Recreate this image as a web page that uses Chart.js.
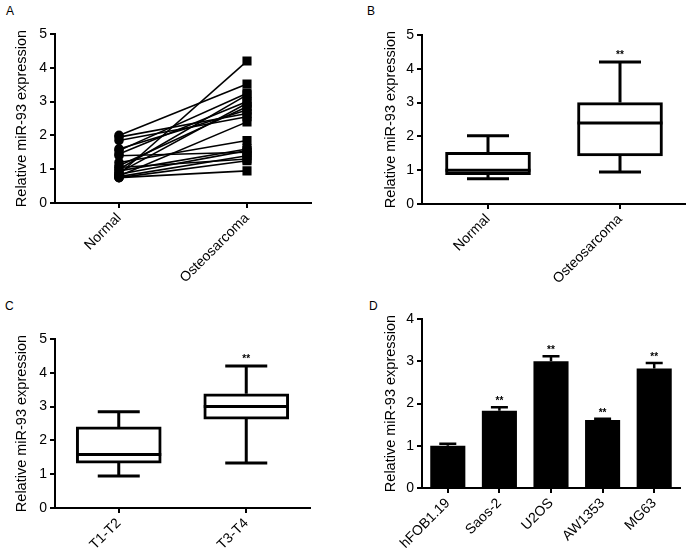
<!DOCTYPE html>
<html>
<head>
<meta charset="utf-8">
<script src="https://cdn.jsdelivr.net/npm/chart.js@4.4.1/dist/chart.umd.min.js"></script>
<style>
  body { margin: 0; background: #fff; width: 686px; height: 552px; position: relative; overflow: hidden; font-family: "Liberation Sans", Arial, sans-serif; }
  canvas { position: absolute; }
  .tag { position: absolute; font-size: 12px; color: #000; }
</style>
</head>
<body>
<div class="tag" style="left:6px;top:4px">A</div>
<div class="tag" style="left:367px;top:4px">B</div>
<div class="tag" style="left:5px;top:299px">C</div>
<div class="tag" style="left:369px;top:299px">D</div>
<canvas id="chartC" style="left:0;top:276px" width="343" height="276"></canvas>
<canvas id="chartD" style="left:343px;top:276px" width="343" height="276"></canvas>
<canvas id="chartA" style="left:0;top:0" width="343" height="300"></canvas>
<canvas id="chartB" style="left:343px;top:0" width="343" height="300"></canvas>
<script>
// panel A: paired samples (same index = same patient)
const pairLabels = ["Normal", "Osteosarcoma"];
const pairNormal = [0.85, 2.0, 1.55, 1.0, 1.85, 1.45, 0.9, 1.6, 1.1, 1.95, 0.8, 1.2, 0.95, 1.4, 0.78, 1.05, 0.75, 0.75, 0.85];
const pairOsteo  = [4.2, 3.52, 3.25, 3.2, 2.55, 3.0, 2.95, 2.75, 2.85, 2.65, 2.4, 1.85, 1.6, 1.5, 1.4, 1.3, 1.25, 0.95, 1.55];

// panel B / C: box stats [min, q1, median, q3, max]
const boxLabelsB = ["Normal", "Osteosarcoma"];
const boxB = [[0.75, 0.87, 1.0, 1.53, 2.02], [0.95, 1.42, 2.4, 3.0, 4.2]];
const starsB = ["", "**"];
const boxLabelsC = ["T1-T2", "T3-T4"];
const boxC = [[0.95, 1.33, 1.58, 2.4, 2.85], [1.33, 2.63, 3.0, 3.38, 4.2]];
const starsC = ["", "**"];

// panel D: cell lines
const cellLines = ["hFOB1.19", "Saos-2", "U2OS", "AW1353", "MG63"];
const cellMeans = [1.0, 1.83, 3.0, 1.61, 2.83];
const cellErr = [0.05, 0.08, 0.12, 0.03, 0.13];
const cellStars = ["", "**", "**", "**", "**"];

Chart.defaults.font.family = '"Liberation Sans", Arial, sans-serif';
Chart.defaults.font.size = 14;
Chart.defaults.color = "#000";
Chart.defaults.animation = false;
Chart.defaults.plugins.legend.display = false;
Chart.defaults.plugins.tooltip.enabled = false;

function axes(yMax, yWidth, xHeight) {
  return {
    x: {
      offset: true,
      grid: { offset: false, drawOnChartArea: false, tickLength: 5, color: "#000", lineWidth: 2 },
      border: { color: "#000", width: 2 },
      ticks: { maxRotation: 45, minRotation: 45, padding: 2, autoSkip: false },
      afterFit: s => { s.height = xHeight; }
    },
    y: {
      min: 0, max: yMax,
      ticks: { stepSize: 1, padding: 3 },
      grid: { drawOnChartArea: false, tickLength: 5, color: "#000", lineWidth: 2 },
      border: { color: "#000", width: 2 },
      title: { display: true, text: "Relative miR-93 expression", font: { size: 14.5 }, padding: { top: 3, bottom: 0 } },
      afterFit: s => { s.width = yWidth; }
    }
  };
}

function drawStar(ctx, x, y, txt) {
  if (!txt) return;
  ctx.font = 'bold 10px "Liberation Sans", Arial';
  ctx.fillStyle = "#000";
  ctx.textAlign = "center";
  ctx.textBaseline = "alphabetic";
  ctx.fillText(txt, x, y);
}

const boxPlugin = {
  id: "boxWhiskers",
  afterDatasetsDraw(chart, args, opts) {
    if (!opts.stats) return;
    const { ctx, scales: { y } } = chart;
    const meta = chart.getDatasetMeta(0);
    ctx.save();
    ctx.strokeStyle = "#000";
    ctx.lineWidth = 3;
    opts.stats.forEach((s, i) => {
      const bar = meta.data[i];
      const cx = bar.x, half = bar.width / 2, cap = 21;
      const p = s.map(v => y.getPixelForValue(v));
      ctx.beginPath();
      ctx.moveTo(cx, p[1]); ctx.lineTo(cx, p[0]);
      ctx.moveTo(cx - cap, p[0]); ctx.lineTo(cx + cap, p[0]);
      ctx.moveTo(cx, p[3]); ctx.lineTo(cx, p[4]);
      ctx.moveTo(cx - cap, p[4]); ctx.lineTo(cx + cap, p[4]);
      ctx.moveTo(cx - half, p[2]); ctx.lineTo(cx + half, p[2]);
      ctx.stroke();
      drawStar(ctx, cx, p[4] - 4, opts.stars[i]);
    });
    ctx.restore();
  }
};

const errPlugin = {
  id: "errBars",
  afterDatasetsDraw(chart, args, opts) {
    if (!opts.err) return;
    const { ctx, scales: { y } } = chart;
    const meta = chart.getDatasetMeta(0);
    ctx.save();
    ctx.strokeStyle = "#000";
    ctx.lineWidth = 2.5;
    opts.err.forEach((e, i) => {
      const bar = meta.data[i];
      const top = y.getPixelForValue(opts.values[i] + e);
      ctx.beginPath();
      ctx.moveTo(bar.x, bar.y); ctx.lineTo(bar.x, top);
      ctx.moveTo(bar.x - 8.5, top); ctx.lineTo(bar.x + 8.5, top);
      ctx.stroke();
      drawStar(ctx, bar.x, top - 3, opts.stars[i]);
    });
    ctx.restore();
  }
};

// A
new Chart(document.getElementById("chartA"), {
  type: "line",
  data: {
    labels: pairLabels,
    datasets: pairNormal.map((n, i) => ({
      data: [n, pairOsteo[i]],
      borderColor: "#000",
      borderWidth: 1.6,
      backgroundColor: "#000",
      pointBackgroundColor: "#000",
      pointBorderColor: "#000",
      pointStyle: ["circle", "rect"],
      pointRadius: [4, 5.3],
      tension: 0
    }))
  },
  options: {
    responsive: false,
    layout: { padding: { left: 10, top: 34, right: 32, bottom: 0 } },
    scales: axes(5, 45, 97)
  }
});

// B
new Chart(document.getElementById("chartB"), {
  type: "bar",
  data: {
    labels: boxLabelsB,
    datasets: [{
      data: boxB.map(s => [s[1], s[3]]),
      backgroundColor: "#fff",
      borderColor: "#000",
      borderWidth: 3,
      borderSkipped: false,
      barThickness: 85
    }]
  },
  options: {
    responsive: false,
    layout: { padding: { left: 36, top: 35, right: 0, bottom: 0 } },
    scales: axes(5, 43, 96),
    plugins: { boxWhiskers: { stats: boxB, stars: starsB } }
  },
  plugins: [boxPlugin]
});

// C
new Chart(document.getElementById("chartC"), {
  type: "bar",
  data: {
    labels: boxLabelsC,
    datasets: [{
      data: boxC.map(s => [s[1], s[3]]),
      backgroundColor: "#fff",
      borderColor: "#000",
      borderWidth: 3,
      borderSkipped: false,
      barThickness: 85
    }]
  },
  options: {
    responsive: false,
    layout: { padding: { left: 10, top: 63, right: 33, bottom: 0 } },
    scales: axes(5, 45, 44),
    plugins: { boxWhiskers: { stats: boxC, stars: starsC } }
  },
  plugins: [boxPlugin]
});

// D
new Chart(document.getElementById("chartD"), {
  type: "bar",
  data: {
    labels: cellLines,
    datasets: [{
      data: cellMeans,
      backgroundColor: "#000",
      borderWidth: 0,
      barPercentage: 0.68,
      categoryPercentage: 1
    }]
  },
  options: {
    responsive: false,
    layout: { padding: { left: 36, top: 43, right: 6, bottom: 0 } },
    scales: axes(4, 43, 64),
    plugins: { errBars: { values: cellMeans, err: cellErr, stars: cellStars } }
  },
  plugins: [errPlugin]
});
</script>
</body>
</html>
